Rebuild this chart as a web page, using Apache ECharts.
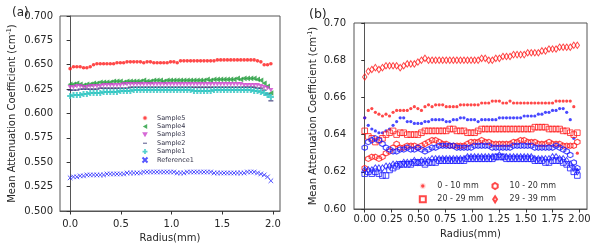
<!DOCTYPE html>
<html><head><meta charset="utf-8">
<script src="https://cdn.jsdelivr.net/npm/echarts@6/dist/echarts.min.js"></script>
<style>html,body{margin:0;padding:0;background:#fff}#c{width:591px;height:245px}</style>
</head><body><div id="c"></div>
<script>
// Radius sampling (mm)
const radius = [0,0.033,0.066,0.099,0.132,0.165,0.198,0.231,0.264,0.297,0.33,0.363,0.396,0.429,0.462,0.495,0.528,0.561,0.594,0.627,0.66,0.693,0.726,0.759,0.792,0.825,0.858,0.891,0.924,0.957,0.99,1.023,1.056,1.089,1.122,1.155,1.188,1.221,1.254,1.287,1.32,1.353,1.386,1.419,1.452,1.485,1.518,1.551,1.584,1.617,1.65,1.683,1.716,1.749,1.782,1.815,1.848,1.881,1.914,1.947,1.98];

// Panel (a)
const sample5 = [0.646,0.648,0.648,0.648,0.647,0.647,0.648,0.650,0.651,0.651,0.651,0.651,0.651,0.651,0.652,0.652,0.652,0.653,0.653,0.653,0.653,0.653,0.652,0.653,0.653,0.652,0.652,0.652,0.652,0.652,0.653,0.653,0.652,0.654,0.654,0.654,0.654,0.654,0.654,0.654,0.654,0.654,0.654,0.654,0.655,0.655,0.655,0.655,0.655,0.655,0.655,0.655,0.655,0.655,0.655,0.655,0.654,0.653,0.650,0.650,0.651];
const sample4 = [0.630,0.630,0.631,0.630,0.629,0.630,0.630,0.631,0.631,0.632,0.632,0.632,0.632,0.633,0.633,0.633,0.632,0.633,0.633,0.633,0.633,0.633,0.634,0.633,0.633,0.634,0.634,0.634,0.633,0.634,0.634,0.634,0.634,0.634,0.634,0.634,0.634,0.634,0.634,0.634,0.634,0.635,0.634,0.635,0.635,0.635,0.635,0.635,0.635,0.635,0.636,0.635,0.636,0.636,0.636,0.636,0.635,0.634,0.631,0.628,0.621];
const sample3 = [0.627,0.627,0.628,0.628,0.627,0.627,0.628,0.628,0.628,0.628,0.629,0.629,0.629,0.629,0.629,0.629,0.630,0.630,0.630,0.630,0.630,0.630,0.630,0.630,0.630,0.630,0.630,0.630,0.630,0.630,0.630,0.630,0.630,0.630,0.630,0.630,0.630,0.630,0.630,0.630,0.630,0.630,0.630,0.630,0.630,0.630,0.630,0.630,0.630,0.630,0.630,0.630,0.629,0.629,0.629,0.629,0.629,0.628,0.627,0.626,0.624];
const sample2 = [0.624,0.624,0.624,0.625,0.625,0.625,0.625,0.625,0.625,0.626,0.626,0.626,0.626,0.626,0.626,0.626,0.626,0.626,0.627,0.627,0.627,0.627,0.627,0.627,0.627,0.627,0.627,0.627,0.627,0.627,0.627,0.627,0.627,0.627,0.627,0.627,0.627,0.627,0.627,0.627,0.627,0.627,0.627,0.627,0.627,0.627,0.627,0.627,0.627,0.627,0.627,0.627,0.627,0.627,0.627,0.627,0.626,0.626,0.624,0.620,0.613];
const sample1 = [0.618,0.619,0.619,0.619,0.620,0.620,0.621,0.621,0.621,0.621,0.622,0.622,0.622,0.622,0.622,0.623,0.623,0.623,0.623,0.624,0.624,0.624,0.624,0.624,0.624,0.624,0.624,0.624,0.624,0.624,0.624,0.624,0.624,0.624,0.624,0.624,0.624,0.623,0.623,0.623,0.623,0.623,0.623,0.624,0.624,0.624,0.624,0.624,0.624,0.624,0.624,0.624,0.624,0.624,0.624,0.623,0.623,0.622,0.621,0.619,0.617];
const reference1 = [0.534,0.535,0.535,0.536,0.536,0.537,0.537,0.537,0.537,0.537,0.537,0.538,0.538,0.538,0.538,0.538,0.538,0.539,0.539,0.539,0.539,0.539,0.540,0.540,0.540,0.540,0.540,0.540,0.540,0.540,0.540,0.540,0.539,0.539,0.539,0.540,0.540,0.540,0.540,0.540,0.540,0.540,0.540,0.539,0.539,0.539,0.539,0.539,0.539,0.539,0.539,0.539,0.539,0.540,0.540,0.540,0.539,0.538,0.537,0.535,0.531];

// Panel (b) red series
const red0to10 = [0.649,0.653,0.654,0.652,0.651,0.650,0.651,0.650,0.652,0.653,0.653,0.653,0.653,0.654,0.655,0.654,0.653,0.655,0.656,0.655,0.656,0.656,0.656,0.655,0.655,0.655,0.655,0.656,0.656,0.656,0.656,0.656,0.656,0.657,0.657,0.657,0.658,0.658,0.658,0.657,0.657,0.658,0.657,0.657,0.657,0.657,0.657,0.657,0.657,0.657,0.657,0.657,0.657,0.657,0.658,0.658,0.658,0.658,0.658,0.655,0.630];
const red10to20 = [0.622,0.627,0.628,0.628,0.627,0.628,0.630,0.631,0.633,0.635,0.633,0.633,0.634,0.634,0.634,0.633,0.634,0.635,0.636,0.637,0.637,0.636,0.635,0.635,0.634,0.634,0.634,0.634,0.634,0.635,0.636,0.636,0.636,0.637,0.636,0.636,0.635,0.635,0.635,0.635,0.635,0.635,0.636,0.636,0.637,0.637,0.636,0.636,0.636,0.635,0.635,0.635,0.636,0.635,0.635,0.635,0.634,0.634,0.634,0.634,0.636];
const red20to29 = [0.642,0.639,0.638,0.636,0.637,0.638,0.640,0.641,0.642,0.640,0.641,0.641,0.640,0.640,0.640,0.640,0.641,0.642,0.642,0.642,0.642,0.642,0.642,0.642,0.643,0.643,0.642,0.642,0.642,0.641,0.641,0.641,0.642,0.643,0.643,0.643,0.643,0.643,0.643,0.643,0.643,0.643,0.643,0.643,0.643,0.643,0.643,0.643,0.644,0.644,0.644,0.644,0.643,0.643,0.643,0.643,0.642,0.642,0.641,0.640,0.641];
const red29to39 = [0.671,0.674,0.675,0.676,0.675,0.676,0.677,0.677,0.677,0.677,0.676,0.677,0.678,0.678,0.678,0.679,0.680,0.681,0.680,0.680,0.680,0.680,0.680,0.680,0.680,0.680,0.680,0.680,0.680,0.680,0.680,0.680,0.680,0.681,0.681,0.680,0.680,0.681,0.681,0.682,0.682,0.682,0.683,0.683,0.683,0.683,0.684,0.684,0.684,0.684,0.685,0.685,0.686,0.686,0.686,0.687,0.687,0.687,0.687,0.688,0.688];
// Panel (b) blue series
const blue0to10 = [0.649,0.645,0.643,0.642,0.641,0.641,0.642,0.643,0.645,0.647,0.649,0.649,0.647,0.647,0.646,0.646,0.646,0.647,0.647,0.648,0.648,0.648,0.648,0.647,0.647,0.648,0.648,0.649,0.649,0.648,0.648,0.648,0.647,0.648,0.648,0.648,0.648,0.648,0.649,0.649,0.649,0.649,0.649,0.649,0.649,0.650,0.650,0.650,0.650,0.651,0.651,0.652,0.652,0.653,0.653,0.654,0.654,0.652,0.648,0.638,0.621];
const blue10to20 = [0.633,0.636,0.637,0.638,0.637,0.635,0.633,0.632,0.631,0.631,0.632,0.632,0.633,0.632,0.632,0.633,0.632,0.631,0.632,0.633,0.633,0.634,0.634,0.634,0.634,0.634,0.633,0.633,0.633,0.633,0.633,0.634,0.634,0.634,0.634,0.634,0.633,0.633,0.633,0.633,0.633,0.633,0.634,0.634,0.634,0.634,0.634,0.634,0.633,0.633,0.633,0.633,0.633,0.633,0.634,0.633,0.632,0.631,0.629,0.625,0.622];
const blue20to29 = [0.619,0.620,0.619,0.620,0.619,0.618,0.618,0.621,0.622,0.623,0.624,0.624,0.624,0.624,0.625,0.625,0.625,0.624,0.625,0.625,0.625,0.626,0.626,0.626,0.626,0.626,0.626,0.626,0.626,0.627,0.627,0.627,0.627,0.627,0.627,0.627,0.627,0.628,0.628,0.628,0.627,0.627,0.627,0.627,0.627,0.627,0.627,0.627,0.626,0.626,0.626,0.625,0.625,0.626,0.626,0.626,0.625,0.624,0.622,0.620,0.618];
const blue29to39 = [0.621,0.621,0.621,0.622,0.622,0.622,0.623,0.623,0.624,0.624,0.624,0.625,0.625,0.625,0.626,0.625,0.626,0.626,0.626,0.627,0.627,0.627,0.627,0.627,0.627,0.627,0.627,0.627,0.627,0.628,0.628,0.628,0.628,0.628,0.628,0.628,0.628,0.628,0.629,0.628,0.628,0.628,0.628,0.628,0.628,0.628,0.628,0.628,0.627,0.627,0.627,0.627,0.627,0.628,0.628,0.627,0.627,0.626,0.624,0.622,0.620];

// Tick labels
const xTicksA = [0, 0.5, 1.0, 1.5, 2.0];
const yTicksA = [0.500, 0.525, 0.550, 0.575, 0.600, 0.625, 0.650, 0.675, 0.700];
const xTicksB = [0, 0.25, 0.5, 0.75, 1.0, 1.25, 1.5, 1.75, 2.0];
const yTicksB = [0.60, 0.62, 0.64, 0.66, 0.68, 0.70];

const legendA = ['Sample5','Sample4','Sample3','Sample2','Sample1','Reference1'];
const legendB1 = ['0 - 10 mm','20 - 29 mm'];
const legendB2 = ['10 - 20 mm','29 - 39 mm'];

const pts = ys => radius.map((r, i) => [r, ys[i]]);

const TRI_LEFT = 'path://M0,5L8.66,0L8.66,10Z';
const TRI_DOWN = 'path://M0,0L10,0L5,8.66Z';
const PLUS = 'path://M3.3,0H6.7V3.3H10V6.7H6.7V10H3.3V6.7H0V3.3H3.3Z';
const XMARK = 'path://M0,0L10,10M10,0L0,10';
const HEX = 'path://M5,0L9.33,2.5L9.33,7.5L5,10L0.67,7.5L0.67,2.5Z';
const THIN_D = 'path://M5,0L8.2,5L5,10L1.8,5Z';
const SQUARE = 'path://M0,0H10V10H0Z';
const HLINE = 'path://M0,0H10V2.6H0Z';
const HLINE_ICON = 'path://M0,0M10,10M1,4H9V6H1Z';

const RED = '#ff1a1a', BLUE = '#1a1aff';
const axisCol = '#555';
const txtCol = '#262626';
const FONT = 'DejaVu Sans';

function hollow(c, w) { return { color: 'rgba(255,255,255,0)', borderColor: c, borderWidth: w || 1 }; }

function sc(name, ax, ys, symbol, size, itemStyle, z) {
  return { name, type: 'scatter', xAxisIndex: ax, yAxisIndex: ax, data: pts(ys), symbol, symbolSize: size, itemStyle, z: z || 2, silent: true };
}

const series = [
  sc('Sample5', 0, sample5, 'circle', 3.6, { color: RED }),
  sc('Sample4', 0, sample4, TRI_LEFT, [5, 5.6], { color: '#1f9b3a' }),
  sc('Sample3', 0, sample3, TRI_DOWN, [5, 4.4], { color: '#cc44cc' }),
  sc('Sample2', 0, sample2, HLINE, [5, 1.3], { color: '#2b2b6e' }),
  sc('Sample1', 0, sample1, PLUS, 6, { color: '#2cc4c0' }),
  sc('Reference1', 0, reference1, XMARK, 4.6, hollow('#2a2aff', 1)),

  sc('0 - 10 mm', 1, red0to10, 'circle', 3.2, { color: RED }),
  sc('0 - 10 mm blue', 1, blue0to10, 'circle', 3.2, { color: BLUE }),
  sc('20 - 29 mm', 1, red20to29, SQUARE, 5.6, hollow(RED, 1)),
  sc('20 - 29 mm blue', 1, blue20to29, SQUARE, 5.6, hollow(BLUE, 1)),
  sc('10 - 20 mm', 1, red10to20, HEX, 5.4, hollow(RED, 1.1)),
  sc('10 - 20 mm blue', 1, blue10to20, HEX, 5.4, hollow(BLUE, 1.1)),
  sc('29 - 39 mm', 1, red29to39, THIN_D, [4.4, 6.4], hollow(RED, 1)),
  sc('29 - 39 mm blue', 1, blue29to39, THIN_D, [4.4, 6.4], hollow(BLUE, 1))
];

function xAxis(gi, ticks, dec, gap, margin) {
  return {
    type: 'value', gridIndex: gi, min: -0.1, max: 2.07,
    name: 'Radius(mm)', nameLocation: 'middle', nameGap: gap,
    nameTextStyle: { fontSize: 10, color: txtCol, fontFamily: FONT },
    axisLine: { show: true, lineStyle: { color: axisCol, width: 1 } },
    axisTick: { show: true, inside: false, length: 3.5, customValues: ticks, lineStyle: { color: '#333' } },
    axisLabel: { customValues: ticks, margin: margin, fontSize: 10, color: txtCol, fontFamily: FONT, formatter: v => v.toFixed(dec) },
    splitLine: { show: false }
  };
}
function yAxis(gi, min, max, ticks, dec, gap, margin) {
  return {
    type: 'value', gridIndex: gi, min, max,
    name: 'Mean Attenuation Coefficient (cm{s|-1})', nameLocation: 'middle', nameGap: gap,
    nameTextStyle: { fontSize: 10, color: txtCol, fontFamily: FONT,
      rich: { s: { fontSize: 6.5, color: txtCol, fontFamily: FONT, padding: [0, 0, 6, 0] } } },
    axisLine: { show: true, lineStyle: { color: axisCol, width: 1 } },
    axisTick: { show: true, inside: false, length: 3.5, customValues: ticks, lineStyle: { color: '#333' } },
    axisLabel: { customValues: ticks, margin: margin, fontSize: 10, color: txtCol, fontFamily: FONT, formatter: v => v.toFixed(dec) },
    splitLine: { show: false }
  };
}

const legendTextA = { fontSize: 6.5, color: '#333348', fontFamily: FONT, lineHeight: 8.4 };
const legendTextB = { fontSize: 8, color: '#333', fontFamily: FONT, lineHeight: 10 };

const option = {
  animation: false,
  backgroundColor: '#fff',
  textStyle: { fontFamily: FONT },
  title: [
    { text: '(a)', left: 7, top: 2, textStyle: { fontSize: 12, fontWeight: 'normal', color: txtCol, fontFamily: FONT } },
    { text: '(b)', left: 304, top: 3, textStyle: { fontSize: 12.5, fontWeight: 'normal', color: txtCol, fontFamily: FONT } }
  ],
  grid: [
    { left: 60, top: 16, width: 220, height: 195, containLabel: false, outerBoundsMode: 'none', show: true, borderColor: axisCol, borderWidth: 1, backgroundColor: 'transparent' },
    { left: 354, top: 23, width: 233, height: 186, containLabel: false, outerBoundsMode: 'none', show: true, borderColor: axisCol, borderWidth: 1, backgroundColor: 'transparent' }
  ],
  xAxis: [ xAxis(0, xTicksA, 1, 19, 8), xAxis(1, xTicksB, 2, 13.5, 5.5) ],
  yAxis: [ yAxis(0, 0.5, 0.7, yTicksA, 3, 41, 7), yAxis(1, 0.6, 0.7, yTicksB, 2, 34, 8) ],
  legend: [
    { orient: 'vertical', align: 'left', left: 141.5, top: 113.8, itemWidth: 14, itemHeight: 5, itemGap: 0, padding: 0,
      textStyle: legendTextA, selectedMode: false,
      data: legendA.map(n => n === 'Sample5' ? { name: n, itemStyle: { borderColor: '#fff', borderWidth: 1.6 } }
                      : n === 'Sample2' ? { name: n, icon: HLINE_ICON } : n) },
    { orient: 'vertical', align: 'left', left: 418.5, top: 181, itemWidth: 19, itemHeight: 6, itemGap: 3.3, padding: 0,
      textStyle: legendTextB, selectedMode: false,
      data: legendB1.map(n => n === '0 - 10 mm' ? { name: n, itemStyle: { borderColor: '#fff', borderWidth: 2.6 } } : n) },
    { orient: 'vertical', align: 'left', left: 491.5, top: 181, itemWidth: 19, itemHeight: 6, itemGap: 3.3, padding: 0,
      textStyle: legendTextB, selectedMode: false, data: legendB2 }
  ],
  series
};

const chart = echarts.init(document.getElementById('c'), null, { renderer: 'canvas' });
chart.setOption(option);
</script></body></html>
